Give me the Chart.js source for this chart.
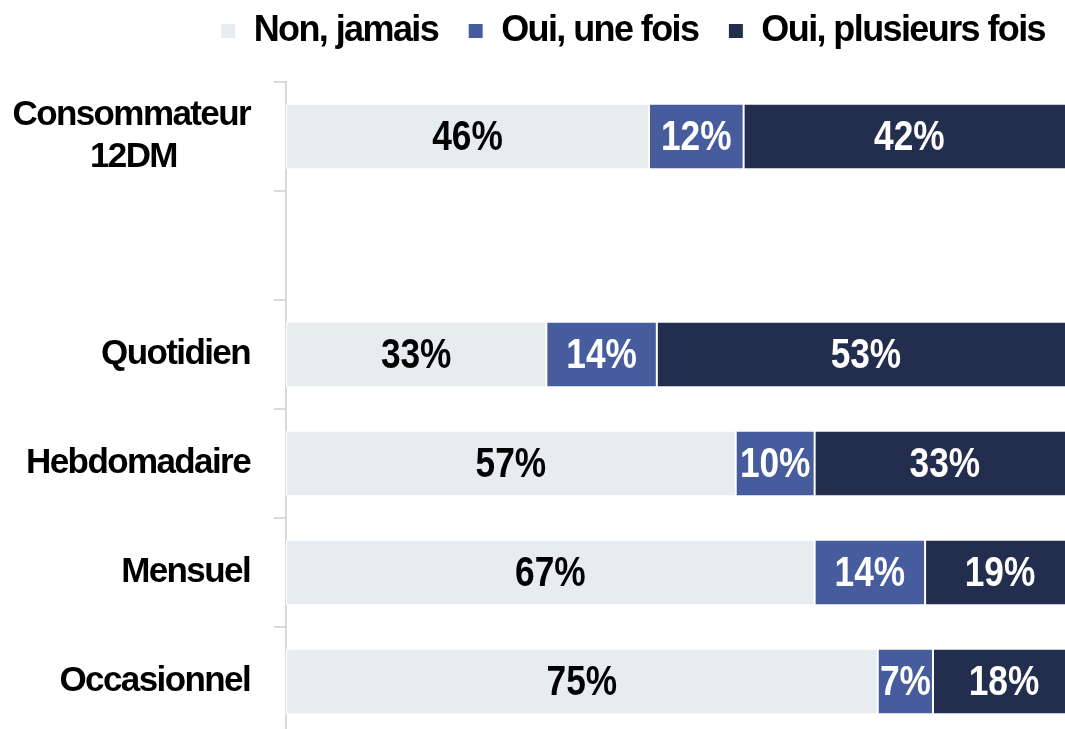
<html lang="fr">
<head>
  <meta charset="UTF-8">
  <title>Chart</title>
  <script src="https://cdn.jsdelivr.net/npm/chart.js@4.4.1/dist/chart.umd.min.js"></script>
</head>
<body>

  <div class="container">
    <canvas id="chart" width="1075" height="753"></canvas>
  </div>

  <style>
    html, body {
      margin: 0;
      padding: 0;
      background: #fff;
    }
    .container {
      overflow: hidden;
      position: relative;
      width: 1065px;
      height: 729px;
    }
    #chart {
      position: absolute;
      top: -17px;
      left: 0;
    }
  </style>

  <script>
    var pad = '\u00a0\u00a0\u00a0\u00a0\u00a0\u00a0\u00a0\u00a0\u00a0';
    var categories = [['Consommateur', '12DM' + pad], '', 'Quotidien', 'Hebdomadaire', 'Mensuel', 'Occasionnel'];
    var seriesNames = ['Non, jamais', 'Oui, une fois', 'Oui, plusieurs fois'];
    var jamais = [46, null, 33, 57, 67, 75];
    var uneFois = [12, null, 14, 10, 14, 7];
    var plusieurs = [42, null, 53, 33, 19, 18];
    var colors = ['#e7ecef', '#475c9c', '#232d4d'];
    var labelColors = ['#000', '#fff', '#fff'];

    var FONT = "'Liberation Sans', Arial, sans-serif";
    var SQUEEZE = 0.82;

    // pas de police étroite installée : on resserre les lettres
    var tightText = {
      id: 'tightText',
      beforeUpdate: function(chart){ chart.ctx.letterSpacing = '-1.6px'; },
      beforeDraw: function(chart){ chart.ctx.letterSpacing = '-1.6px'; }
    };

    // valeurs écrites au centre de chaque segment
    var valueLabels = {
      id: 'valueLabels',
      afterDatasetsDraw: function(chart){
        var ctx = chart.ctx;
        ctx.save();
        ctx.letterSpacing = '0px';
        ctx.font = 'bold 43px ' + FONT;
        ctx.textAlign = 'center';
        ctx.textBaseline = 'middle';
        ctx.scale(SQUEEZE, 1);
        chart.data.datasets.forEach(function(ds, i){
          var meta = chart.getDatasetMeta(i);
          meta.data.forEach(function(bar, j){
            var v = ds.data[j];
            if(v == null) return;
            var p = bar.getCenterPoint();
            ctx.fillStyle = labelColors[i];
            ctx.fillText(v + '%', p.x / SQUEEZE, p.y + 2);
          });
        });
        ctx.restore();
      }
    };

    var seriesData = [jamais, uneFois, plusieurs];

    new Chart(document.getElementById('chart'), {
      type: 'bar',
      data: {
        labels: categories,
        datasets: seriesData.map(function(d, i){
          return {
            label: seriesNames[i],
            data: d,
            backgroundColor: colors[i],
            borderColor: '#fff',
            borderWidth: 1,
            borderSkipped: false,
            barPercentage: 0.75,
            categoryPercentage: 0.8
          };
        })
      },
      options: {
        indexAxis: 'y',
        responsive: false,
        animation: false,
        layout: { padding: 0 },
        scales: {
          x: {
            position: 'top',
            stacked: true,
            min: 0,
            max: 100,
            ticks: { display: false },
            grid: { display: false },
            border: { display: false },
            afterFit: function(s){ s.height = 23; }
          },
          y: {
            stacked: true,
            ticks: {
              color: '#000',
              padding: 24,
              font: { family: FONT, size: 35, weight: 'bold', lineHeight: 1.2 }
            },
            grid: {
              drawOnChartArea: false,
              drawTicks: true,
              tickLength: 12,
              color: '#d9d9d9',
              lineWidth: 2
            },
            border: { color: '#d9d9d9', width: 2 },
            afterFit: function(s){
              s.width = 286;
              s.paddingTop = 0;
              s.paddingBottom = 0;
            }
          }
        },
        plugins: {
          legend: {
            position: 'top',
            align: 'end',
            labels: {
              color: '#000',
              boxWidth: 15,
              boxHeight: 15,
              padding: 30,
              font: { family: FONT, size: 36, weight: 'bold' }
            }
          },
          tooltip: { enabled: false }
        }
      },
      plugins: [tightText, valueLabels]
    });
  </script>

</body>
</html>
